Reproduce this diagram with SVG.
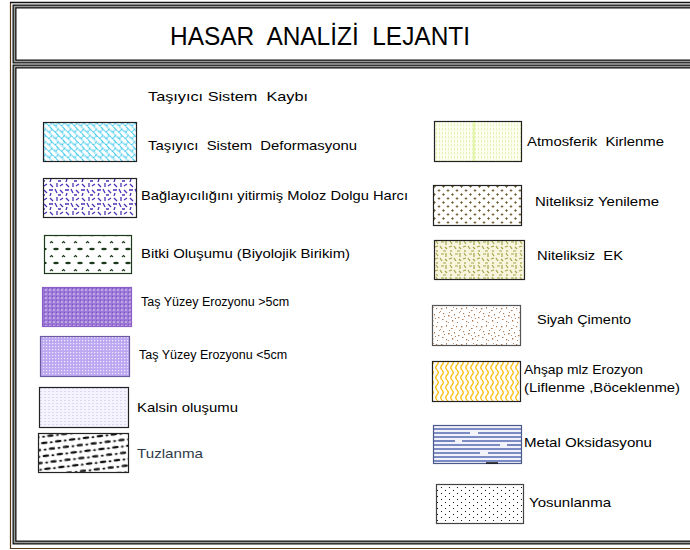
<svg xmlns="http://www.w3.org/2000/svg" width="690" height="550" viewBox="0 0 690 550" xml:space="preserve">
<style>
text{font-family:"Liberation Sans",Arial,sans-serif;font-size:13px;fill:#000;white-space:pre}
.title{font-size:25px}
.sm{font-size:12.5px}
.sw{stroke:#222;stroke-width:1.2}
</style>
<defs>
<pattern id="pCyan" width="9" height="9" patternUnits="userSpaceOnUse" patternTransform="rotate(45)">
<path d="M0 0.5H9M0 5H9M2.2 0.5V5M6.7 5V9.5" stroke="#33c6ee" stroke-width="1.1" fill="none" stroke-dasharray="2 0.6"/>
</pattern>
<pattern id="pPurple" width="16" height="14" patternUnits="userSpaceOnUse">
<path d="M2 2l3 3M9 1v4M12 4l3-2M1 8h4M7 7l2 4M12 8l3 3M3 11l-1 3M10 13h3" stroke="#4a30b5" stroke-width="1.3" fill="none"/>
</pattern>
<pattern id="pGreen" width="12" height="14" patternUnits="userSpaceOnUse">
<path d="M2 5l1.5-1.5 1.5 1.5" stroke="#1d3a1d" stroke-width="1.1" fill="none"/>
<ellipse cx="8" cy="11" rx="2.8" ry="1.2" fill="#1d3a1d"/>
</pattern>
<pattern id="pTas1" width="4" height="4" patternUnits="userSpaceOnUse">
<rect width="4" height="4" fill="#9b78d6"/>
<rect x="1.3" y="1.3" width="1.4" height="1.4" fill="#e2d6f6" transform="rotate(45 2 2)"/>
<rect x="0" y="0" width="1" height="1" fill="#7d55c0"/>
</pattern>
<pattern id="pTas2" width="3" height="3" patternUnits="userSpaceOnUse">
<rect width="3" height="3" fill="#bba8f0"/>
<rect x="1" y="1" width="1.2" height="1.2" fill="#eee8ff"/>
</pattern>
<pattern id="pKalsin" width="4" height="3" patternUnits="userSpaceOnUse">
<rect width="4" height="3" fill="#f5f3fd"/>
<rect x="0" y="1" width="2" height="1" fill="#dcd7f3"/>
</pattern>
<pattern id="pTuz" width="14" height="13" patternUnits="userSpaceOnUse" patternTransform="rotate(-7)">
<ellipse cx="4" cy="3" rx="3.4" ry="1.2" fill="#111"/>
<ellipse cx="11" cy="3.3" rx="1.5" ry="1" fill="#111"/>
<ellipse cx="11" cy="9.5" rx="3.4" ry="1.2" fill="#111"/>
<ellipse cx="4" cy="9.8" rx="1.5" ry="1" fill="#111"/>
</pattern>
<pattern id="pAtm" width="3" height="4" patternUnits="userSpaceOnUse">
<rect width="3" height="4" fill="#fcffef"/>
<rect x="1" y="0" width="0.8" height="2.5" fill="#e2f0a8"/>
</pattern>
<pattern id="pYen" width="9" height="8" patternUnits="userSpaceOnUse">
<path d="M2.5 1.2v2.6M1.2 2.5h2.6M7 5.2v2.6M5.7 6.5h2.6" stroke="#6e5a28" stroke-width="0.9" fill="none"/>
</pattern>
<pattern id="pEk" width="14" height="12" patternUnits="userSpaceOnUse">
<rect width="14" height="12" fill="#f7f5de"/>
<path d="M2 1l2 3M7 2h3M12 1v4M1 7l3-1M6 6l2 3M11 7l2 2M3 10v2M9 11h3" stroke="#a6a547" stroke-width="1.2" fill="none"/>
</pattern>
<pattern id="pCim" width="20" height="18" patternUnits="userSpaceOnUse">
<g fill="#b07a52">
<rect x="1" y="2" width="1.4" height="1.4"/><rect x="6" y="1" width="1" height="1.6"/><rect x="11" y="4" width="1.6" height="1"/><rect x="16" y="2" width="1.2" height="1.2"/>
<rect x="3" y="7" width="1.2" height="1.2"/><rect x="8" y="9" width="1.6" height="1.4"/><rect x="14" y="8" width="1" height="1.5"/><rect x="18" y="11" width="1.4" height="1.2"/>
<rect x="2" y="13" width="1.5" height="1"/><rect x="6" y="15" width="1.2" height="1.2"/><rect x="12" y="14" width="1.3" height="1.6"/><rect x="17" y="16" width="1" height="1"/>
<rect x="9" y="6" width="1" height="1"/><rect x="4" y="10" width="1" height="1"/><rect x="15" y="12" width="1" height="1"/>
<rect x="13" y="1" width="0.9" height="0.9"/><rect x="0" y="5" width="0.9" height="0.9"/><rect x="11" y="11" width="0.9" height="0.9"/><rect x="19" y="6" width="0.9" height="0.9"/><rect x="8" y="16" width="0.9" height="0.9"/>
</g>
</pattern>
<pattern id="pWood" width="5" height="10" patternUnits="userSpaceOnUse">
<path d="M2 0q2.5 2.5 0 5q-2.5 2.5 0 5" stroke="#ffbf10" stroke-width="1.3" fill="none"/>
</pattern>
<pattern id="pDot" width="8" height="6" patternUnits="userSpaceOnUse">
<rect x="1" y="1" width="1" height="1" fill="#111"/>
<rect x="5" y="4" width="1" height="1" fill="#111"/>
</pattern>
</defs>

<g id="frame">
<line x1="10.5" y1="2" x2="10.5" y2="549" stroke="#5a3a1a" stroke-width="1.2"/>
<line x1="10" y1="2.5" x2="690" y2="2.5" stroke="#111" stroke-width="1.5"/>
<line x1="10" y1="548.5" x2="690" y2="548.5" stroke="#5a3a1a" stroke-width="1"/>
<rect x="14.5" y="6.5" width="690" height="55" fill="#fff" stroke="#111" stroke-width="4"/>
<rect x="14.5" y="6.5" width="690" height="55" fill="none" stroke="#9a9a9a" stroke-width="1.5"/>
<rect x="14.5" y="66.5" width="690" height="476" fill="#fff" stroke="#111" stroke-width="4"/>
<rect x="14.5" y="66.5" width="690" height="476" fill="none" stroke="#9a9a9a" stroke-width="1.5"/>
</g>

<g id="title"><text class="title" x="170" y="45" textLength="300" lengthAdjust="spacingAndGlyphs">HASAR  ANALİZİ  LEJANTI</text></g>
<g id="heading"><text x="148" y="101" textLength="160" lengthAdjust="spacingAndGlyphs">Taşıyıcı Sistem  Kaybı</text></g>

<g id="n1"><rect class="sw" x="43.5" y="122.5" width="93" height="39" fill="url(#pCyan)"/><text x="148" y="150" textLength="209" lengthAdjust="spacingAndGlyphs">Taşıyıcı  Sistem  Deformasyonu</text></g>
<g id="n2"><rect class="sw" x="43.5" y="178.5" width="93" height="39" fill="url(#pPurple)"/><text x="141" y="200" textLength="267" lengthAdjust="spacingAndGlyphs">Bağlayıcılığını yitirmiş Moloz Dolgu Harcı</text></g>
<g id="n3"><rect x="44.5" y="235.5" width="87" height="38" fill="url(#pGreen)" stroke="#1d3a1d" stroke-width="1.2"/><text x="141" y="258" textLength="209" lengthAdjust="spacingAndGlyphs">Bitki Oluşumu (Biyolojik Birikim)</text></g>
<g id="n4"><rect x="42.5" y="287.5" width="89" height="39" fill="url(#pTas1)" stroke="#8a60c8" stroke-width="1.2"/><text class="sm" x="141" y="306">Taş Yüzey Erozyonu &gt;5cm</text></g>
<g id="n5"><rect x="40.5" y="336.5" width="89" height="40" fill="url(#pTas2)" stroke="#6a5aa0" stroke-width="1.2"/><text class="sm" x="139" y="359">Taş Yüzey Erozyonu &lt;5cm</text></g>
<g id="n6"><rect class="sw" x="39.5" y="387.5" width="89" height="40" fill="url(#pKalsin)"/><text x="137" y="412" textLength="101" lengthAdjust="spacingAndGlyphs">Kalsin oluşumu</text></g>
<g id="n7"><rect class="sw" x="38.5" y="433.5" width="90" height="39" fill="url(#pTuz)"/><text x="137" y="458" style="fill:#2f3a48" textLength="66" lengthAdjust="spacingAndGlyphs">Tuzlanma</text></g>

<g id="n8"><rect class="sw" x="434.5" y="121.5" width="87" height="40" fill="url(#pAtm)"/><line x1="474" y1="122" x2="474" y2="161" stroke="#cdf06a" stroke-width="1"/><text x="527" y="146" textLength="137" lengthAdjust="spacingAndGlyphs">Atmosferik  Kirlenme</text></g>
<g id="n9"><rect class="sw" x="433.5" y="185.5" width="88" height="40" fill="url(#pYen)"/><text x="535" y="206" textLength="124" lengthAdjust="spacingAndGlyphs">Niteliksiz Yenileme</text></g>
<g id="n10"><rect class="sw" x="434.5" y="240.5" width="90" height="39" fill="url(#pEk)"/><text x="537" y="260" textLength="86" lengthAdjust="spacingAndGlyphs">Niteliksiz  EK</text></g>
<g id="n11"><rect x="432.5" y="305.5" width="88" height="40" fill="url(#pCim)" stroke="#555" stroke-width="1.2"/><text x="537" y="324" textLength="94" lengthAdjust="spacingAndGlyphs">Siyah Çimento</text></g>
<g id="n12"><rect class="sw" x="432.5" y="361.5" width="88" height="40" fill="url(#pWood)"/><text x="524" y="374" textLength="119" lengthAdjust="spacingAndGlyphs">Ahşap mlz Erozyon</text><text x="524" y="392" textLength="156" lengthAdjust="spacingAndGlyphs">(Liflenme ,Böceklenme)</text></g>
<g id="n13"><rect x="433.5" y="425.5" width="88" height="38" fill="#f2f3fa" stroke="#4a5a8a" stroke-width="1.2"/>
<g stroke="#5569b0" stroke-width="1.6">
<line x1="434" y1="429" x2="521" y2="429"/><line x1="434" y1="433" x2="470" y2="433"/><line x1="478" y1="433" x2="521" y2="433"/>
<line x1="434" y1="437" x2="521" y2="437"/><line x1="434" y1="441" x2="455" y2="441"/><line x1="462" y1="441" x2="521" y2="441"/>
<line x1="434" y1="445" x2="500" y2="445"/><line x1="507" y1="445" x2="521" y2="445"/><line x1="434" y1="449" x2="521" y2="449"/>
<line x1="434" y1="453" x2="480" y2="453"/><line x1="488" y1="453" x2="521" y2="453"/><line x1="434" y1="457" x2="521" y2="457"/>
<line x1="434" y1="461" x2="521" y2="461"/>
</g><line x1="486" y1="463" x2="498" y2="463" stroke="#111" stroke-width="1.5"/>
<text x="524" y="447" textLength="128" lengthAdjust="spacingAndGlyphs">Metal Oksidasyonu</text></g>
<g id="n14"><rect x="436.5" y="484.5" width="87" height="39" fill="url(#pDot)" stroke="#444" stroke-width="1.2"/><text x="529" y="507" textLength="82" lengthAdjust="spacingAndGlyphs">Yosunlanma</text></g>
</svg>
